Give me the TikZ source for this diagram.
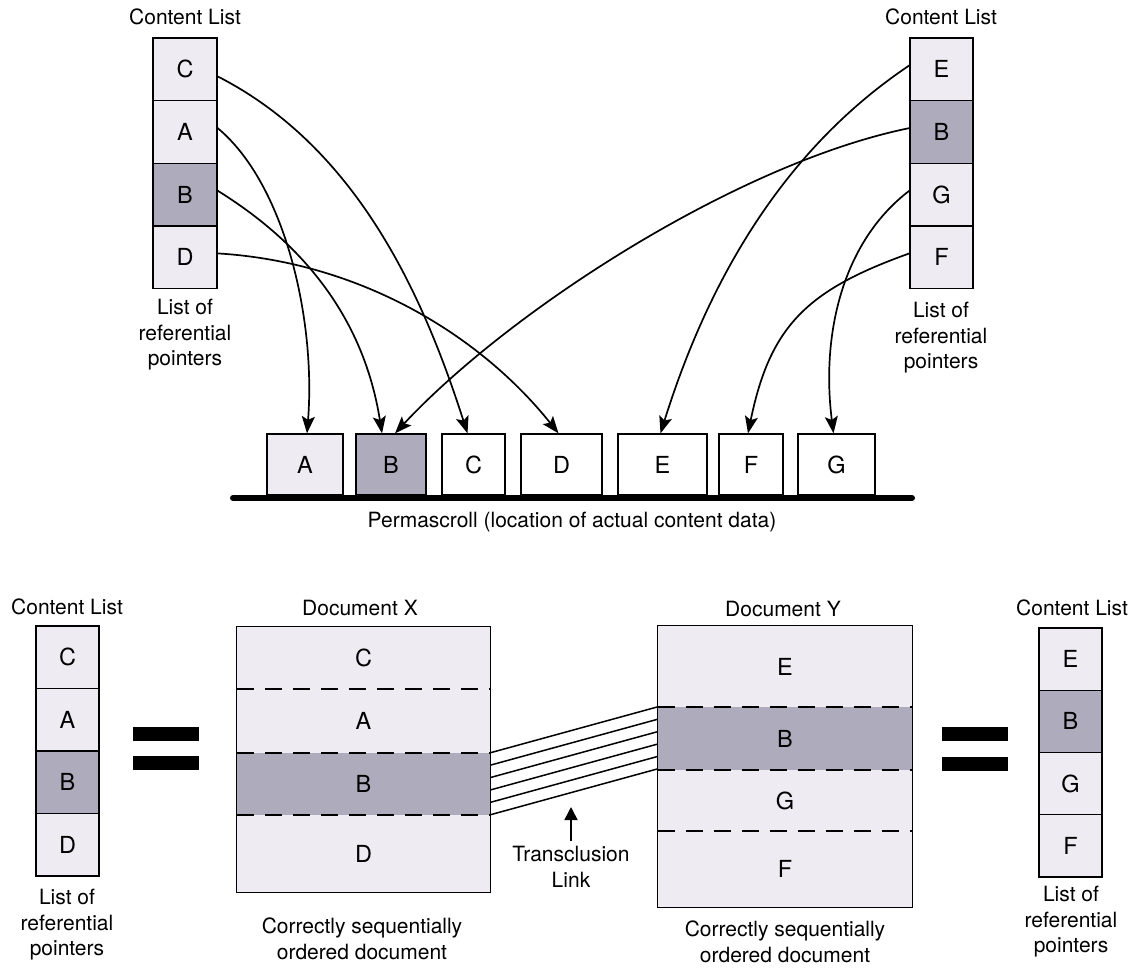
\documentclass[tikz,border=0pt]{standalone}
\usepackage{fontspec}
\setmainfont{TeX Gyre Heros}
\usetikzlibrary{arrows.meta}
\definecolor{cellfill}{RGB}{238,236,242}
\definecolor{cellshade}{RGB}{174,172,188}
\begin{document}
\begin{tikzpicture}[x=1pt,y=-1pt,
  lab/.style={font=\fontsize{21}{25.5}\selectfont, align=center, inner sep=0pt},
  letter/.style={font=\fontsize{23.5}{23.5}\selectfont},
  listcell/.style={draw, line width=1.3pt, fill=cellfill, minimum width=64pt,
    minimum height=62.6pt, inner sep=0pt, letter},
  shaded/.style={fill=cellshade},
  pbox/.style={draw, line width=1.3pt, fill=white, minimum height=61pt,
    inner sep=0pt, letter},
  docsec/.style={fill=cellfill, inner sep=0pt, letter},
  sepline/.style={line width=1.6pt, dash pattern=on 17pt off 11pt},
  frame/.style={line width=1.3pt},
  ptr/.style={line width=1.7pt, -{Stealth[length=17pt,width=13pt,inset=3.5pt]}},
  eqbar/.style={fill=black, minimum width=66pt, minimum height=14pt, inner sep=0pt},
  tlink/.style={line width=1.5pt}
]
\useasboundingbox (0,0) rectangle (1138,967);

% ---------- upper half: content lists pointing into the permascroll ----------
\node[lab] (tlT) at (185,17) {Content List};
\node[listcell] (tlC) at (185,69.4) {C};
\node[listcell] (tlA) at (185,132.1) {A};
\node[listcell, shaded] (tlB) at (185,194.7) {B};
\node[listcell] (tlD) at (185,257.4) {D};
\node[lab] (tlP) at (185,335) {List of\\referential\\pointers};

\node[lab] (trT) at (941,17) {Content List};
\node[listcell, minimum width=63pt] (trE) at (941.5,69.4) {E};
\node[listcell, minimum width=63pt, shaded] (trB) at (941.5,132.1) {B};
\node[listcell, minimum width=63pt] (trG) at (941.5,194.7) {G};
\node[listcell, minimum width=63pt] (trF) at (941.5,257.4) {F};
\node[lab] (trP) at (941,338) {List of\\referential\\pointers};

% permascroll boxes
\node[pbox, fill=cellfill, minimum width=76pt] (pA) at (305,464.5) {A};
\node[pbox, fill=cellshade, minimum width=70pt] (pB) at (391,464.5) {B};
\node[pbox, minimum width=63pt] (pC) at (473.5,464.5) {C};
\node[pbox, minimum width=81pt] (pD) at (561.5,464.5) {D};
\node[pbox, minimum width=89pt] (pE) at (662.5,464.5) {E};
\node[pbox, minimum width=64pt] (pF) at (751,464.5) {F};
\node[pbox, minimum width=77pt] (pG) at (836.5,464.5) {G};
\coordinate (barL) at (233,498);
\coordinate (barR) at (912,498);
\draw[line width=6pt, line cap=round] (barL) -- (barR);
\node[lab] (pLab) at (572,522) {Permascroll (location of actual content data)};

% pointers from the left list
\draw[ptr] ([yshift=-7pt]tlC.east) .. controls (360,149) and (425,301) .. ([xshift=-6pt]pC.north);
\draw[ptr] ([yshift=4pt]tlA.east) .. controls (285,184) and (316,320) .. ([xshift=2pt]pA.north);
\draw[ptr] ([yshift=4pt]tlB.east) .. controls (328,259) and (368,345) .. ([xshift=-9pt]pB.north);
\draw[ptr] ([yshift=4pt]tlD.east) .. controls (360,262) and (480,335) .. ([xshift=-3pt]pD.north);

% pointers from the right list
\draw[ptr] ([yshift=4pt]trE.west) .. controls (777,154) and (705,291) .. ([xshift=-2pt]pE.north);
\draw[ptr] ([yshift=4pt]trB.west) .. controls (738,163) and (510,310) .. ([xshift=4pt]pB.north);
\draw[ptr] ([yshift=4pt]trG.west) .. controls (842,242) and (821,335) .. ([xshift=-3pt]pG.north);
\draw[ptr] ([yshift=4pt]trF.west) .. controls (807,290) and (770,326) .. ([xshift=-3pt]pF.north);

% ---------- lower half: assembled documents ----------
% left content list
\node[lab] (blT) at (67,607) {Content List};
\node[listcell, minimum width=63pt, minimum height=62.5pt] (blC) at (67.5,657.25) {C};
\node[listcell, minimum width=63pt, minimum height=62.5pt] (blA) at (67.5,719.75) {A};
\node[listcell, minimum width=63pt, minimum height=62.5pt, shaded] (blB) at (67.5,782.25) {B};
\node[listcell, minimum width=63pt, minimum height=62.5pt] (blD) at (67.5,844.75) {D};
\node[lab] (blP) at (67,925) {List of\\referential\\pointers};

\node[eqbar] (eqL1) at (166,734) {};
\node[eqbar] (eqL2) at (166,763) {};

% document X
\node[lab] (xT) at (360,608) {Document X};
\node[docsec, minimum width=253pt, minimum height=62pt] (xC) at (363.5,658) {C};
\node[docsec, minimum width=253pt, minimum height=64pt] (xA) at (363.5,721) {A};
\node[docsec, minimum width=253pt, minimum height=62pt, shaded] (xB) at (363.5,784) {B};
\node[docsec, minimum width=253pt, minimum height=77pt] (xD) at (363.5,853.5) {\raisebox{-9pt}{D}};
\draw[frame] (xC.north west) rectangle (xD.south east);
\draw[sepline] (xC.south west) -- (xC.south east);
\draw[sepline] (xA.south west) -- (xA.south east);
\draw[sepline] (xB.south west) -- (xB.south east);
\node[lab] (xP) at (362,939) {Correctly sequentially\\ordered document};

% document Y
\node[lab] (yT) at (783,609) {Document Y};
\node[docsec, minimum width=254pt, minimum height=81pt] (yE) at (785,666.5) {E};
\node[docsec, minimum width=254pt, minimum height=63pt, shaded] (yB) at (785,738.5) {B};
\node[docsec, minimum width=254pt, minimum height=61pt] (yG) at (785,800.5) {G};
\node[docsec, minimum width=254pt, minimum height=76pt] (yF) at (785,869) {F};
\draw[frame] (yE.north west) rectangle (yF.south east);
\draw[sepline] (yE.south west) -- (yE.south east);
\draw[sepline] (yB.south west) -- (yB.south east);
\draw[sepline] (yG.south west) -- (yG.south east);
\node[lab] (yP) at (785,942) {Correctly sequentially\\ordered document};

% transclusion link between the two B sections
\foreach \i in {0,...,5}
  \draw[tlink] ([yshift=-\i*12.4pt]xB.north east) -- ([yshift=-\i*12.4pt]yB.north west);
\node[lab] (tLab) at (571,867) {Transclusion\\Link};
\coordinate (tTip) at (571,807);
\draw[line width=1.6pt, -{Triangle[length=13pt,width=13pt]}] ([yshift=5pt]tLab.north) -- (tTip);

\node[eqbar] (eqR1) at (975,734) {};
\node[eqbar] (eqR2) at (975,763.5) {};

% right content list
\node[lab] (brT) at (1072,608) {Content List};
\node[listcell, minimum width=63pt, minimum height=62.25pt] (brE) at (1070.5,659.1) {E};
\node[listcell, minimum width=63pt, minimum height=62.25pt, shaded] (brB) at (1070.5,721.4) {B};
\node[listcell, minimum width=63pt, minimum height=62.25pt] (brG) at (1070.5,783.6) {G};
\node[listcell, minimum width=63pt, minimum height=62.25pt] (brF) at (1070.5,845.9) {F};
\node[lab] (brP) at (1071,922) {List of\\referential\\pointers};
\end{tikzpicture}
\end{document}
